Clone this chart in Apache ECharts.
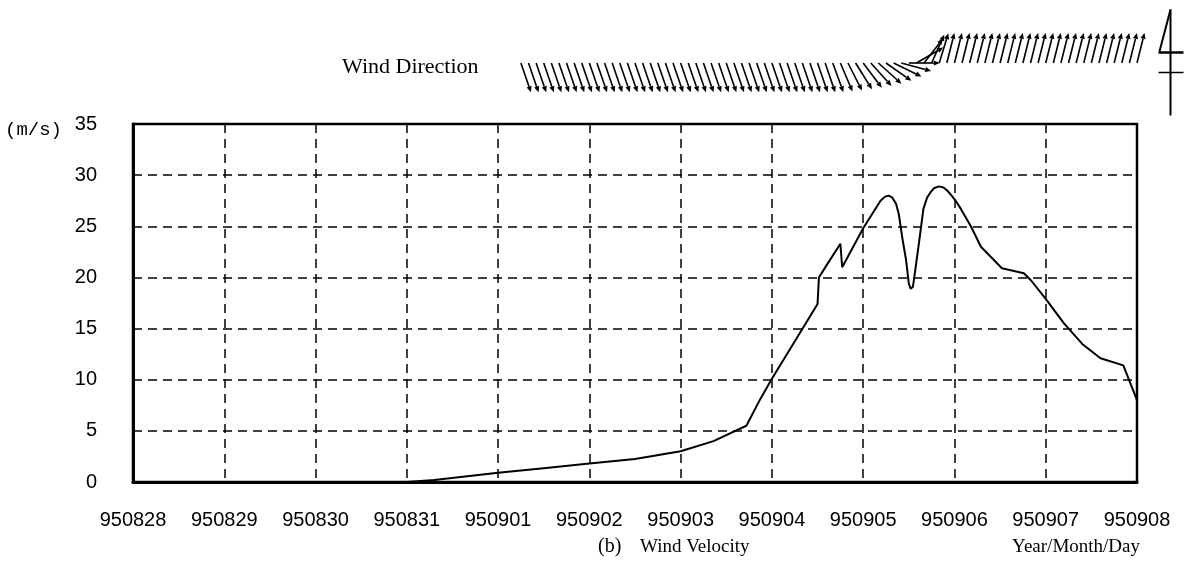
<!DOCTYPE html>
<html>
<head>
<meta charset="utf-8">
<script src="https://cdn.jsdelivr.net/npm/echarts@6/dist/echarts.min.js"></script>
<style>
  html, body { margin: 0; padding: 0; background: #fff; }
  #chart { width: 1186px; height: 563px; }
</style>
</head>
<body>
<div id="chart"></div>
<script>
// Day labels along the time axis (one per day, 0 = 28 Aug 1995)
const dateLabels = ['950828', '950829', '950830', '950831', '950901', '950902',
                    '950903', '950904', '950905', '950906', '950907', '950908'];

// Wind velocity record: time in days from the first label, speed in m/s
const velTime = [0, 3.0, 3.3, 4.0, 4.5, 5.0, 5.5, 6.0, 6.36, 6.72, 6.875, 7.0,
                 7.35, 7.5, 7.515, 7.6, 7.75, 7.77, 8.0, 8.19, 8.24, 8.28, 8.32,
                 8.36, 8.39, 8.43, 8.47, 8.5, 8.52, 8.53, 8.545, 8.56, 8.61, 8.66,
                 8.70, 8.74, 8.78, 8.83, 8.88, 8.92, 8.97, 9.02, 9.07, 9.18,
                 9.29, 9.4, 9.52, 9.76, 9.84, 10.0, 10.2, 10.4, 10.6, 10.85, 11.0];
const velSpeed = [0, 0, 0.2, 0.9, 1.35, 1.8, 2.25, 3.0, 4.0, 5.5, 8.15, 10.1,
                  15.2, 17.4, 20.0, 21.2, 23.3, 21.0, 24.8, 27.5, 27.9, 28.0, 27.8,
                  27.2, 26.2, 23.8, 21.7, 19.4, 18.9, 18.8, 19.1, 20.0, 23.3, 26.7,
                  27.8, 28.35, 28.75, 28.9, 28.8, 28.5, 28.0, 27.4, 26.7, 25.0,
                  23.0, 22.0, 20.9, 20.4, 19.7, 17.9, 15.5, 13.5, 12.1, 11.4, 8.0];

// Wind direction record: one arrow every 2 hours, bearing (deg) the wind blows toward
const dirStart = 4.25;
const dirStep = 1 / 12;
const windBearing = [
  161, 161, 161, 161, 161, 161, 161, 161, 161, 161,
  161, 161, 161, 161, 161, 161, 161, 161, 161, 161,
  161, 161, 161, 161, 161, 161, 161, 161, 161, 161,
  161, 161, 161, 161, 161, 161, 161, 161, 161, 161,
  161, 160, 157, 153, 148, 143, 138, 132, 125, 116,
  105, 90, 60, 38, 24, 17, 14, 14, 14, 14,
  14, 14, 14, 14, 14, 14, 14, 14, 14, 14,
  14, 14, 14, 14, 14, 14, 14, 14, 14, 14,
  14, 14
];

const velData = velTime.map((t, i) => [t, velSpeed[i]]);
const dirData = windBearing.map((b, i) => [dirStart + i * dirStep, b]);

const ink = '#000';
const sans = 'Liberation Sans';

const chart = echarts.init(document.getElementById('chart'), null, { renderer: 'canvas' });

chart.setOption({
  backgroundColor: '#fff',
  animation: false,
  grid: [
    { left: 133, right: 49, top: 124, bottom: 81, show: true,
      borderColor: ink, borderWidth: 2.5, backgroundColor: 'transparent' },
    { left: 133, right: 49, top: 20, height: 86, show: false }
  ],
  xAxis: [
    {
      type: 'value', gridIndex: 0, min: 0, max: 11, interval: 1,
      axisLine: { show: true, lineStyle: { color: ink, width: 3 } },
      axisTick: { show: false },
      axisLabel: {
        color: ink, fontFamily: sans, fontSize: 20, margin: 28,
        formatter: v => dateLabels[Math.round(v)]
      },
      splitLine: { show: true, lineStyle: { color: ink, width: 1.5, type: [9, 6] } }
    },
    { type: 'value', gridIndex: 1, min: 0, max: 11, show: false }
  ],
  yAxis: [
    {
      type: 'value', gridIndex: 0, min: 0, max: 35, interval: 5,
      axisLine: { show: true, lineStyle: { color: ink, width: 3 } },
      axisTick: { show: false },
      axisLabel: { color: ink, fontFamily: sans, fontSize: 20, margin: 36 },
      splitLine: { show: true, lineStyle: { color: ink, width: 1.5, type: [9, 6] } }
    },
    { type: 'value', gridIndex: 1, min: 0, max: 1, show: false }
  ],
  series: [
    {
      name: 'Wind Velocity', type: 'line', xAxisIndex: 0, yAxisIndex: 0,
      data: velData, showSymbol: false, smooth: false,
      lineStyle: { color: ink, width: 2 }, z: 5
    },
    {
      name: 'Wind Direction', type: 'custom', xAxisIndex: 1, yAxisIndex: 1,
      data: dirData, clip: false,
      renderItem: function (params, api) {
        const base = api.coord([api.value(0), 0.5]);
        const ang = api.value(1) * Math.PI / 180;
        const len = 31, headLen = 6, headHalf = 2.6;
        const ux = Math.sin(ang), uy = -Math.cos(ang);
        const tip = [base[0] + ux * len, base[1] + uy * len];
        const back = [tip[0] - ux * headLen, tip[1] - uy * headLen];
        const nx = -uy, ny = ux;
        return {
          type: 'group',
          children: [
            { type: 'line',
              shape: { x1: base[0], y1: base[1], x2: back[0], y2: back[1] },
              style: { stroke: ink, lineWidth: 1.6 } },
            { type: 'polygon',
              shape: { points: [tip,
                [back[0] + nx * headHalf, back[1] + ny * headHalf],
                [back[0] - nx * headHalf, back[1] - ny * headHalf]] },
              style: { fill: ink } }
          ]
        };
      }
    }
  ],
  graphic: [
    { type: 'text', left: 342, top: 56,
      style: { text: 'Wind Direction', font: '22px "Liberation Serif"', fill: ink } },
    { type: 'text', left: 5, top: 120,
      style: { text: '(m/s)', font: '19px "Liberation Mono"', fill: ink } },
    { type: 'text', left: 598, top: 537,
      style: { text: '(b)', font: '20px "Liberation Serif"', fill: ink } },
    { type: 'text', left: 640, top: 538,
      style: { text: 'Wind Velocity', font: '19px "Liberation Serif"', fill: ink } },
    { type: 'text', right: 46, top: 538,
      style: { text: 'Year/Month/Day', font: '19px "Liberation Serif"', fill: ink } },
    // north marker
    { type: 'group', left: 1156, top: 7, children: [
      { type: 'line', shape: { x1: 12, y1: 0, x2: 12, y2: 106 }, style: { stroke: ink, lineWidth: 2 } },
      { type: 'line', shape: { x1: 12, y1: 0, x2: 1, y2: 42 }, style: { stroke: ink, lineWidth: 2 } },
      { type: 'line', shape: { x1: 0, y1: 43, x2: 25, y2: 43 }, style: { stroke: ink, lineWidth: 2.5 } },
      { type: 'line', shape: { x1: 0, y1: 63, x2: 25, y2: 63 }, style: { stroke: ink, lineWidth: 1.5 } }
    ]}
  ]
});
</script>
</body>
</html>
